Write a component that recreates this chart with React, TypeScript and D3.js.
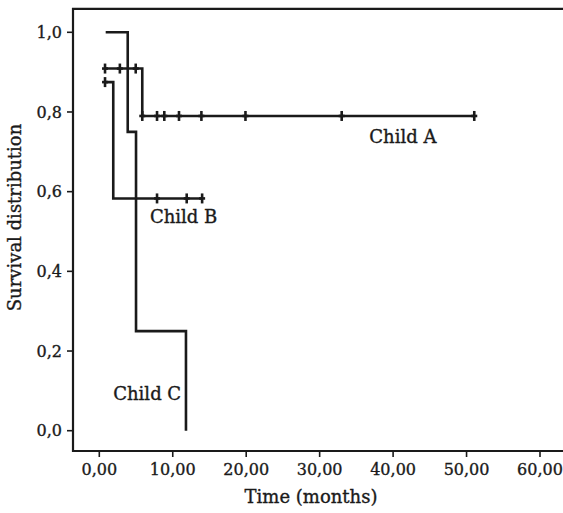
import * as d3 from "d3";

const W = 563;
const H = 513;

// survival steps: [time (months), survival]
const childASteps: [number, number][] = [
  [0.78, 0.909],
  [5.85, 0.79],
  [51.05, 0.79],
];
const childACensored = [0.78, 2.8, 4.96, 5.85, 7.86, 8.85, 10.85, 13.9, 19.9, 33.0, 51.05];

const childBSteps: [number, number][] = [
  [0.78, 0.875],
  [1.9, 0.583],
  [14.0, 0.583],
];
const childBCensored = [0.78, 7.86, 11.9, 14.0];

const childCSteps: [number, number][] = [
  [0.87, 1.0],
  [3.87, 0.75],
  [5.0, 0.25],
  [11.8, 0.0],
];
const childCCensored: number[] = [];

const xTicks = [0, 10, 20, 30, 40, 50, 60];
const yTicks = [0, 0.2, 0.4, 0.6, 0.8, 1.0];

// label anchors in data units [time, survival]
const seriesLabels: { name: string; at: [number, number] }[] = [
  { name: "Child A", at: [36.76, 0.722] },
  { name: "Child B", at: [6.9, 0.522] },
  { name: "Child C", at: [1.9, 0.077] },
];

const FONT = "'DejaVu Serif', serif";
const INK = "#1a1a1a";

function survivalAt(steps: [number, number][], t: number) {
  let s = steps[0][1];
  for (const [time, v] of steps) if (time <= t + 1e-9) s = v;
  return s;
}

export default function App() {
  const x = d3.scaleLinear().domain([0, 60]).range([99.3, 540]);
  const y = d3.scaleLinear().domain([0, 1]).range([430.7, 32.3]);

  const left = x(-3.58);
  const right = x(65);
  const top = y(1.0587);
  const bottom = y(-0.051);

  const line = d3
    .line<[number, number]>()
    .x((d) => x(d[0]))
    .y((d) => y(d[1]))
    .curve(d3.curveStepAfter);

  const series = [
    { steps: childASteps, censored: childACensored },
    { steps: childBSteps, censored: childBCensored },
    { steps: childCSteps, censored: childCCensored },
  ];

  // slightly heavier text, like the scanned original
  const textStyle = { fontFamily: FONT, fill: INK, stroke: INK, strokeWidth: 0.35 };

  return (
    <svg width={W} height={H} style={{ position: "absolute", left: 0, top: 0 }}>
      <rect width={W} height={H} fill="#fff" />
      {/* frame */}
      <path
        d={`M${right},${top}H${left}V${bottom}H${right}`}
        fill="none"
        stroke={INK}
        strokeWidth={2.2}
      />

      {/* y axis */}
      {yTicks.map((t) => (
        <g key={t}>
          <line x1={left - 6} x2={left} y1={y(t)} y2={y(t)} stroke={INK} strokeWidth={1.6} />
          <text x={left - 11} y={y(t)} dy="0.36em" textAnchor="end" fontSize={16} {...textStyle}>
            {d3.format(".1f")(t).replace(".", ",")}
          </text>
        </g>
      ))}

      {/* x axis */}
      {xTicks.map((t) => (
        <g key={t}>
          <line x1={x(t)} x2={x(t)} y1={bottom} y2={bottom + 6} stroke={INK} strokeWidth={1.6} />
          <text x={x(t)} y={475} textAnchor="middle" fontSize={16} {...textStyle}>
            {d3.format(".2f")(t).replace(".", ",")}
          </text>
        </g>
      ))}

      <text x={311} y={503} textAnchor="middle" fontSize={18} {...textStyle}>
        Time (months)
      </text>
      <text
        transform={`translate(21,${217.5}) rotate(-90)`}
        textAnchor="middle"
        fontSize={18}
        {...textStyle}
      >
        Survival distribution
      </text>

      {/* curves */}
      {series.map((s, i) => (
        <g key={i}>
          <path d={line(s.steps) ?? ""} fill="none" stroke={INK} strokeWidth={2.6} />
          {s.censored.map((t, j) => {
            const cx = x(t);
            const cy = y(survivalAt(s.steps, t));
            return (
              <g key={j} stroke={INK} strokeWidth={2.6}>
                <line x1={cx} x2={cx} y1={cy - 5} y2={cy + 5} />
                <line x1={cx - 3} x2={cx + 3} y1={cy} y2={cy} />
              </g>
            );
          })}
        </g>
      ))}

      {seriesLabels.map((l) => (
        <text key={l.name} x={x(l.at[0])} y={y(l.at[1])} fontSize={18} {...textStyle}>
          {l.name}
        </text>
      ))}
    </svg>
  );
}
